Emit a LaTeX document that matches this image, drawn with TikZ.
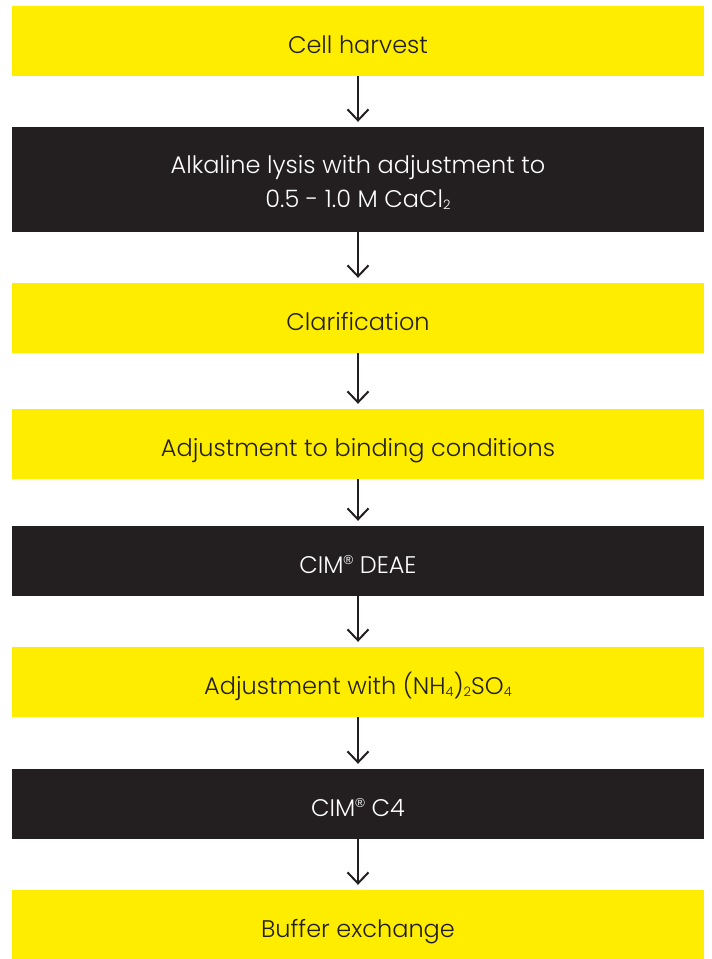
\documentclass[tikz,border=0pt]{standalone}
\usepackage{fontspec}
\setmainfont{Poppins}[UprightFont=* Light]
\newfontfamily\regfont{Liberation Sans}
\usetikzlibrary{arrows.meta}
\definecolor{boxyellow}{HTML}{FFED00}
\definecolor{boxdark}{HTML}{231F20}
\newcommand\mysub[1]{\raisebox{-0.1em}{\fontsize{13}{13}\selectfont #1}}
\newcommand\myreg{\raisebox{0.36em}{\regfont\fontsize{13}{13}\selectfont ®}}
\tikzset{
  stepbase/.style={minimum width=692pt, inner sep=0pt, align=center,
    text height=25pt, text depth=0pt, font=\fontsize{24}{34}\selectfont},
  yellowbox/.style={stepbase, fill=boxyellow, text=boxdark},
  darkbox/.style={stepbase, fill=boxdark, text=white},
  flow/.style={draw=boxdark, line width=2pt, shorten >=5pt,
    -{Straight Barb[length=11pt,width=21pt,line width=2pt]}}
}
\begin{document}
\begin{tikzpicture}[x=1pt,y=-1pt]
\useasboundingbox (0,0) rectangle (712,959);
\node[yellowbox, minimum height=70pt] (b1) at (358,41) {Cell harvest};
\node[darkbox, minimum height=105pt, text height=55pt, text depth=0pt] (b2) at (358,179.5) {Alkaline lysis with adjustment to\\0.5 - 1.0 M CaCl\mysub{2}};
\node[yellowbox, minimum height=70pt] (b3) at (358,318) {Clarification};
\node[yellowbox, minimum height=70pt] (b4) at (358,444) {Adjustment to binding conditions};
\node[darkbox, minimum height=70pt] (b5) at (358,561) {CIM\myreg{} DEAE};
\node[yellowbox, minimum height=70pt] (b6) at (358,682) {Adjustment with (NH\mysub{4})\mysub{2}SO\mysub{4}};
\node[darkbox, minimum height=70pt] (b7) at (358,804) {CIM\myreg{} C4};
\node[yellowbox, minimum height=69pt] (b8) at (358,924.5) {Buffer exchange};
\foreach \a/\b in {b1/b2,b2/b3,b3/b4,b4/b5,b5/b6,b6/b7,b7/b8}
  \draw[flow] (\a.south) -- (\b.north);
\end{tikzpicture}
\end{document}
